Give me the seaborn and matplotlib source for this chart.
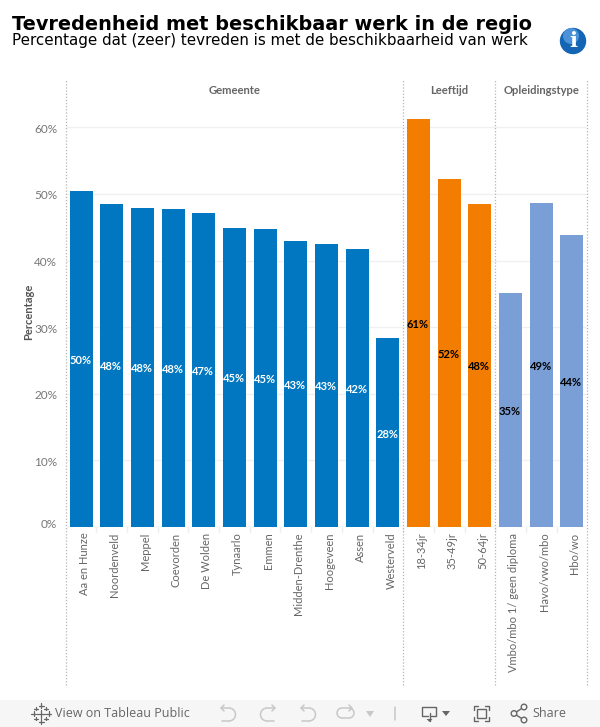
import pandas as pd
import matplotlib
matplotlib.use('Agg')
import matplotlib.pyplot as plt
from matplotlib.patches import Rectangle, Circle, Arc
from matplotlib.transforms import ScaledTranslation
import seaborn as sns

# values
gemeente = ['Aa en Hunze', 'Noordenveld', 'Meppel', 'Coevorden', 'De Wolden', 'Tynaarlo', 'Emmen',
            'Midden-Drenthe', 'Hoogeveen', 'Assen', 'Westerveld']
gemeente_values = [50.5, 48.5, 47.9, 47.8, 47.2, 44.9, 44.8, 43.0, 42.5, 41.8, 28.3]
gemeente_labels = ['50%', '48%', '48%', '48%', '47%', '45%', '45%', '43%', '43%', '42%', '28%']
leeftijd = ['18-34jr', '35-49jr', '50-64jr']
leeftijd_values = [61.3, 52.3, 48.5]
leeftijd_labels = ['61%', '52%', '48%']
opleiding = ['Vmbo/mbo 1/ geen diploma', 'Havo/vwo/mbo', 'Hbo/wo']
opleiding_values = [35.2, 48.7, 43.9]
opleiding_labels = ['35%', '49%', '44%']
yticks = [0, 10, 20, 30, 40, 50, 60]

df = pd.DataFrame({
    'name': gemeente + leeftijd + opleiding,
    'value': gemeente_values + leeftijd_values + opleiding_values,
    'group': ['Gemeente'] * 11 + ['Leeftijd'] * 3 + ['Opleidingstype'] * 3,
})
bar_labels = gemeente_labels + leeftijd_labels + opleiding_labels
colors = {'Gemeente': '#0077c0', 'Leeftijd': '#f27d00', 'Opleidingstype': '#7a9fd6'}

sns.set_style('white')
plt.rcParams['font.family'] = ['Lato', 'DejaVu Sans']

W, H = 600, 727
fig = plt.figure(figsize=(W / 100, H / 100), dpi=100)
ax = fig.add_axes([65.7 / W, 1 - 527 / H, (587.3 - 65.7) / W, (527 - 80) / H])

sns.barplot(data=df, x='name', y='value', hue='group', palette=colors, dodge=False,
            width=0.75, legend=False, saturation=1, ax=ax, zorder=3, edgecolor='none', linewidth=0)
ax.set_xlim(-0.5, 16.5)
ax.set_ylim(0, 67.1)


def px_shift(dx, dy):
    # offset in screen pixels, y up
    return ScaledTranslation(dx / 100, dy / 100, fig.dpi_scale_trans)


# gridlines
ax.set_yticks(yticks)
ax.set_yticklabels([f'{t}%' for t in yticks], fontsize=8.5, color='#777777')
ax.yaxis.grid(True, color='#f0f0f0', lw=1, zorder=0)
ax.xaxis.grid(False)
ax.tick_params(axis='y', length=0, pad=6)
for lab, t in zip(ax.get_yticklabels(), yticks):
    lab.set_transform(lab.get_transform() + px_shift(0, 4 if t == 0 else -1))
ax.set_ylabel('Percentage', fontsize=8, fontweight='bold', color='#555555')
ax.yaxis.set_label_coords(-0.061, 0.481)
ax.set_xlabel('')

ax.set_xticks(range(len(df)))
ax.set_xticklabels(df['name'], rotation=90, fontsize=8, color='#666666')
ax.tick_params(axis='x', length=0, pad=4)
for lab in ax.get_xticklabels():
    lab.set_transform(lab.get_transform() + px_shift(3, 0))
for s in ax.spines.values():
    s.set_visible(False)
ax.axhline(0, color='#e8e8e8', lw=1, zorder=1)

# small ticks between the bars
for x in range(len(df) - 1):
    ax.plot([x + 0.5, x + 0.5], [0, -0.7], color='#eeeeee', lw=1, clip_on=False)

# dotted panel dividers, running down through the label area
low = -(685 - 527) / 6.66
for x in [-0.5, 10.5, 13.5, 16.5]:
    ax.plot([x, x], [low, 67.1], color='#b5b5b5', lw=0.9, ls=(0, (1, 1.5)), clip_on=False, zorder=5)

# panel headers
for x, name in [(5.0, 'Gemeente'), (12, 'Leeftijd'), (15, 'Opleidingstype')]:
    ax.text(x, 65.45, name, ha='center', va='center', fontsize=8.1, fontweight='bold', color='#666666')

# value labels in the middle of the bars
for i, (val, lab) in enumerate(zip(df['value'], bar_labels)):
    c = 'white' if df['group'][i] == 'Gemeente' else 'black'
    ax.text(i - 0.02, val / 2 - 0.2, lab, ha='center', va='center', fontsize=8, fontweight='bold', color=c, zorder=6)

# title block
fig.text(12 / W, 1 - 24 / H, 'Tevredenheid met beschikbaar werk in de regio', family='DejaVu Sans',
         fontsize=13.9, fontweight='bold', color='black', va='center')
fig.text(12 / W, 1 - 40 / H, 'Percentage dat (zeer) tevreden is met de beschikbaarheid van werk',
         family='DejaVu Sans', fontsize=10.9, color='black', va='center')

# overlay in pixel coordinates for info icon and toolbar
ov = fig.add_axes([0, 0, 1, 1], zorder=10)
ov.set_xlim(0, W)
ov.set_ylim(H, 0)
ov.axis('off')
ov.patch.set_alpha(0)

ov.add_patch(Circle((573, 41), 12.5, color='#1565b5'))
ov.add_patch(Circle((571, 36), 8, color='#4c92d8', lw=0))
ov.text(573, 41, 'i', ha='center', va='center', color='white', fontsize=15, fontweight='bold',
        family='DejaVu Serif')

# toolbar
ov.add_patch(Rectangle((0, 700), W, 27, color='#f6f6f6', lw=0))
ov.text(55, 713.5, 'View on Tableau Public', fontsize=9, color='#666666', va='center', family='Open Sans')
ov.text(532, 713.5, 'Share', fontsize=9, color='#666666', va='center', family='Open Sans')

# tableau logo
for cx, cy, r in [(41, 713.5, 4), (41, 705.5, 2.5), (41, 721.5, 2.5), (33.5, 713.5, 2.5), (48.5, 713.5, 2.5),
                  (36, 708.5, 1.8), (46, 708.5, 1.8), (36, 718.5, 1.8), (46, 718.5, 1.8)]:
    ov.plot([cx - r, cx + r], [cy, cy], color='#666666', lw=0.9)
    ov.plot([cx, cx], [cy - r, cy + r], color='#666666', lw=0.9)

# undo / redo / revert icons, greyed out
grey = '#c8c8c8'
for x0 in [221, 301]:
    ov.plot([x0, x0 + 8], [708, 708], color=grey, lw=1.1)
    ov.plot([x0 + 8, x0 + 1], [721, 721], color=grey, lw=1.1)
    ov.add_patch(Arc((x0 + 8, 714.5), 13, 13, theta1=-90, theta2=90, color=grey, lw=1.1))
    ov.plot([x0 + 3, x0, x0 + 3], [705, 708, 711], color=grey, lw=1.1)
ov.plot([275, 267], [708, 708], color=grey, lw=1.1)
ov.plot([267, 274], [721, 721], color=grey, lw=1.1)
ov.add_patch(Arc((267, 714.5), 13, 13, theta1=90, theta2=270, color=grey, lw=1.1))
ov.plot([272, 275, 272], [705, 708, 711], color=grey, lw=1.1)
ov.plot([342, 350], [708, 708], color=grey, lw=1.1)
ov.plot([342, 349], [718, 718], color=grey, lw=1.1)
ov.add_patch(Arc((342, 713), 10, 10, theta1=90, theta2=270, color=grey, lw=1.1))
ov.add_patch(Arc((349, 713), 10, 10, theta1=-90, theta2=90, color=grey, lw=1.1))
ov.plot([349, 352, 349], [705, 708, 711], color=grey, lw=1.1)
ov.fill([366, 374, 370], [711, 711, 717], color=grey, lw=0)
ov.plot([395, 395], [707, 720], color=grey, lw=1.1)

# download icon
dark = '#666666'
ov.plot([428, 422, 422, 436, 436, 431], [716, 716, 707, 707, 716, 716], color=dark, lw=1)
ov.plot([429.5, 429.5], [713, 721], color=dark, lw=1)
ov.fill([426.5, 432.5, 429.5], [719, 719, 722], color=dark, lw=0)
ov.fill([442, 450, 446], [711, 711, 716], color=dark, lw=0)

# fullscreen icon
ov.add_patch(Rectangle((477, 709), 9, 9, fill=False, ec=dark, lw=1))
for sx, sy in [(473.5, 706), (489, 706), (473.5, 721), (489, 721)]:
    dx = 4 if sx < 480 else -4
    dy = 4 if sy < 710 else -4
    ov.plot([sx + dx, sx, sx], [sy, sy, sy + dy], color=dark, lw=1)

# share icon
pts = [(524, 707), (514, 713.5), (524, 720)]
ov.plot([p[0] for p in pts], [p[1] for p in pts], color=dark, lw=1)
for p in pts:
    ov.add_patch(Circle(p, 2.8, fc='#f6f6f6', ec=dark, lw=1, zorder=3))

fig.savefig('out.png', dpi=100)
